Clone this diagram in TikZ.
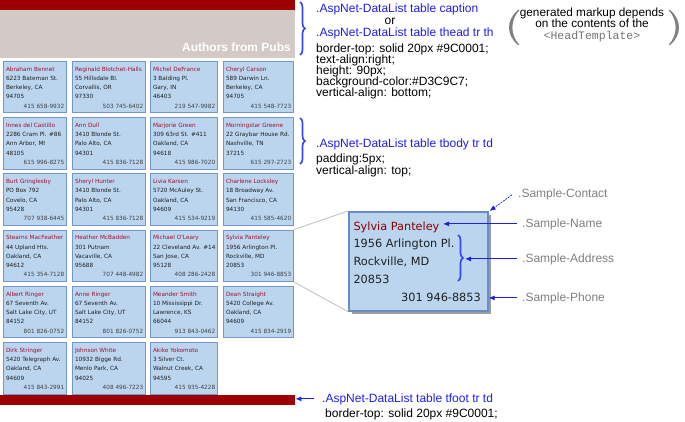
\documentclass[tikz,border=0pt]{standalone}
\usepackage{fontspec}
\setmainfont{Liberation Sans}
\newfontfamily\cellfnt{DejaVu Sans}
\newfontfamily\hmono{Liberation Mono}
\usetikzlibrary{calc,shadows,arrows.meta,decorations.pathreplacing}
\definecolor{hdred}{HTML}{9C0001}
\definecolor{hdbeige}{HTML}{D3C9C7}
\definecolor{cellfill}{HTML}{BBD5EF}
\definecolor{cellborder}{HTML}{7196D0}
\definecolor{bigborder}{HTML}{6A8CC6}
\definecolor{namered}{HTML}{A01030}
\definecolor{bigred}{HTML}{8C0000}
\definecolor{celltxt}{HTML}{202020}
\definecolor{annblue}{HTML}{1E1EEB}
\definecolor{bracec}{HTML}{3344FF}
\definecolor{lblgray}{HTML}{7F7F7F}
\definecolor{zoomgray}{HTML}{C8C8C8}
\tikzset{
  cellbox/.style={draw=cellborder, fill=cellfill, line width=0.9pt, minimum height=51.5pt, inner sep=0pt, anchor=north west},
  celltext/.style={font=\cellfnt\fontsize{5.75}{6}\selectfont, text=celltxt, inner sep=0pt, anchor=base west},
  cellname/.style={celltext, text=namered},
  cellphone/.style={celltext, text=celltxt!85, anchor=base east},
  bigbox/.style={draw=bigborder, fill=cellfill, line width=1.6pt, minimum width=139pt, minimum height=99pt, inner sep=0pt, anchor=north west,
    drop shadow={shadow xshift=3.5pt, shadow yshift=-3.5pt, fill=black!70, opacity=0.55}},
  bigtext/.style={font=\cellfnt\fontsize{11.3}{12}\selectfont, text=celltxt, inner sep=0pt, anchor=base west},
  bigname/.style={bigtext, text=bigred},
  bigphone/.style={bigtext, anchor=base east},
  bar/.style={inner sep=0pt, anchor=north west, minimum width=295pt},
  anntext/.style={font=\fontsize{12}{14}\selectfont, text=black, inner sep=0pt, anchor=base west},
  annhead/.style={anntext, text=annblue},
  lbl/.style={anntext, text=lblgray},
  notetext/.style={font=\fontsize{11.8}{13}\selectfont, text=black, inner sep=0pt, anchor=base},
  annarrow/.style={draw=annblue, line width=0.9pt, -{Latex[length=6pt,width=5pt]}},
  bracestyle/.style={draw=bracec, line width=1.6pt, decorate, decoration={brace, amplitude=5pt}},
  zoomline/.style={draw=zoomgray, line width=1pt},
  parenstyle/.style={fill=black!50, draw=none}
}
\newcommand\authorcell[9]{%
  \node[cellbox, minimum width=#4pt] (#1) at (#2,#3) {};
  \node[cellname] (#1n) at ($(#1.north west)+(2.8,10.4)$) {#5};
  \node[celltext] (#1a) at ($(#1.north west)+(2.8,19.6)$) {#6};
  \node[celltext] (#1c) at ($(#1.north west)+(2.8,28.8)$) {#7};
  \node[celltext] (#1z) at ($(#1.north west)+(2.8,38)$) {#8};
  \node[cellphone] (#1p) at ($(#1.north east)+(-2.5,47.2)$) {#9};
}
\begin{document}
\begin{tikzpicture}[x=1pt,y=-1pt]
\useasboundingbox (0,0) rectangle (685,422);
% header and footer
\node[bar, fill=hdred, minimum height=10pt] (topbar) at (0,0) {};
\node[bar, fill=hdbeige, minimum height=48pt] (headbg) at (0,10) {};
\node[font=\bfseries\fontsize{12}{14}\selectfont, text=white, anchor=base east, inner sep=0pt] (captiontxt) at (291,52) {Authors from Pubs};
\node[bar, fill=hdred, minimum height=10pt] (footbar) at (0,395) {};
% cells
\authorcell{c11}{3}{61}{63}{Abraham Bennet}{6223 Bateman St.}{Berkeley, CA}{94705}{415 658-9932}
\authorcell{c12}{72}{61}{73}{Reginald Blotchet-Halls}{55 Hillsdale Bl.}{Corvallis, OR}{97330}{503 745-6402}
\authorcell{c13}{150}{61}{67}{Michel DeFrance}{3 Balding Pl.}{Gary, IN}{46403}{219 547-9982}
\authorcell{c14}{223}{61}{70}{Cheryl Carson}{589 Darwin Ln.}{Berkeley, CA}{94705}{415 548-7723}
\authorcell{c21}{3}{117.2}{63}{Innes del Castillo}{2286 Cram Pl. \#86}{Ann Arbor, MI}{48105}{615 996-8275}
\authorcell{c22}{72}{117.2}{73}{Ann Dull}{3410 Blonde St.}{Palo Alto, CA}{94301}{415 836-7128}
\authorcell{c23}{150}{117.2}{67}{Marjorie Green}{309 63rd St. \#411}{Oakland, CA}{94618}{415 986-7020}
\authorcell{c24}{223}{117.2}{70}{Morningstar Greene}{22 Graybar House Rd.}{Nashville, TN}{37215}{615 297-2723}
\authorcell{c31}{3}{173.4}{63}{Burt Gringlesby}{PO Box 792}{Covelo, CA}{95428}{707 938-6445}
\authorcell{c32}{72}{173.4}{73}{Sheryl Hunter}{3410 Blonde St.}{Palo Alto, CA}{94301}{415 836-7128}
\authorcell{c33}{150}{173.4}{67}{Livia Karsen}{5720 McAuley St.}{Oakland, CA}{94609}{415 534-9219}
\authorcell{c34}{223}{173.4}{70}{Charlene Locksley}{18 Broadway Av.}{San Francisco, CA}{94130}{415 585-4620}
\authorcell{c41}{3}{229.6}{63}{Stearns MacFeather}{44 Upland Hts.}{Oakland, CA}{94612}{415 354-7128}
\authorcell{c42}{72}{229.6}{73}{Heather McBadden}{301 Putnam}{Vacaville, CA}{95688}{707 448-4982}
\authorcell{c43}{150}{229.6}{67}{Michael O\textquotesingle Leary}{22 Cleveland Av. \#14}{San Jose, CA}{95128}{408 286-2428}
\authorcell{c44}{223}{229.6}{70}{Sylvia Panteley}{1956 Arlington Pl.}{Rockville, MD}{20853}{301 946-8853}
\authorcell{c51}{3}{285.8}{63}{Albert Ringer}{67 Seventh Av.}{Salt Lake City, UT}{84152}{801 826-0752}
\authorcell{c52}{72}{285.8}{73}{Anne Ringer}{67 Seventh Av.}{Salt Lake City, UT}{84152}{801 826-0752}
\authorcell{c53}{150}{285.8}{67}{Meander Smith}{10 Mississippi Dr.}{Lawrence, KS}{66044}{913 843-0462}
\authorcell{c54}{223}{285.8}{70}{Dean Straight}{5420 College Av.}{Oakland, CA}{94609}{415 834-2919}
\authorcell{c61}{3}{342}{63}{Dirk Stringer}{5420 Telegraph Av.}{Oakland, CA}{94609}{415 843-2991}
\authorcell{c62}{72}{342}{73}{Johnson White}{10932 Bigge Rd.}{Menlo Park, CA}{94025}{408 496-7223}
\authorcell{c63}{150}{342}{67}{Akiko Yokomoto}{3 Silver Ct.}{Walnut Creek, CA}{94595}{415 935-4228}
% zoomed sample
\node[bigbox] (big) at (348,211) {};
\draw[zoomline] (c44.north east) -- (big.north west);
\draw[zoomline] (c44.south east) -- (big.south west);
\node[bigname] (bign) at (353.3,230) {Sylvia Panteley};
\node[bigtext] (biga) at (353.3,247.8) {1956 Arlington Pl.};
\node[bigtext] (bigc) at (353.3,265.6) {Rockville, MD};
\node[bigtext] (bigz) at (353.3,283.4) {20853};
\node[bigphone] (bigp) at (481,301.3) {301 946-8853};
\coordinate (ibr1) at (458,235);
\coordinate (ibr2) at (458,281);
\draw[bracestyle] (ibr1) -- (ibr2);
% sample labels
\node[lbl] (lblcontact) at (518,198) {.Sample-Contact};
\node[lbl] (lblname) at (522,227) {.Sample-Name};
\node[lbl] (lbladdr) at (522,262) {.Sample-Address};
\node[lbl] (lblphone) at (522,301) {.Sample-Phone};
\coordinate (tipname) at (443,223);
\coordinate (tipaddr) at (465,259);
\draw[annarrow, dash pattern=on 2pt off 1pt, line width=0.7pt] ([xshift=-6pt]lblcontact.west) -- ([xshift=1pt]big.north east);
\draw[annarrow] ([xshift=-5pt]lblname.west) -- (tipname |- lblname.west);
\draw[annarrow] ([xshift=-5pt]lbladdr.west) -- (tipaddr |- lbladdr.west);
\draw[annarrow] ([xshift=-5pt]lblphone.west) -- (big.east |- lblphone.west);
% header annotation
\coordinate (hbr1) at (300,2);
\coordinate (hbr2) at (300,55);
\draw[bracestyle] (hbr1) -- (hbr2);
\node[annhead] (capA) at (316,13) {.AspNet-DataList table caption};
\node[anntext, anchor=base] (orA) at (390,24.5) {or};
\node[annhead] (theadA) at (316,37) {.AspNet-DataList table thead tr th};
\node[anntext] (hs1) at (316,52.5) {border-top: solid 20px \#9C0001;};
\node[anntext] (hs2) at (316,63.5) {text-align:right;};
\node[anntext] (hs3) at (316,74.5) {height: 90px;};
\node[anntext] (hs4) at (316,85.5) {background-color:\#D3C9C7;};
\node[anntext] (hs5) at (316,96.5) {vertical-align: bottom;};
% note in parentheses
\node[notetext] (note1) at (592,16.5) {generated markup depends};
\node[notetext] (note2) at (592,28) {on the contents of the};
\node[notetext, font=\hmono\fontsize{11.5}{13}\selectfont, text=black!55] (note3) at (592,40) {<HeadTemplate>};
\fill[parenstyle] (518,10) .. controls (506,20) and (506,35) .. (518,45) -- (519.5,45) .. controls (510,35) and (510,20) .. (519.5,10) -- cycle;
\fill[parenstyle] (670,10) .. controls (682,20) and (682,35) .. (670,45) -- (668.5,45) .. controls (678,35) and (678,20) .. (668.5,10) -- cycle;
% tbody annotation
\coordinate (bbr1) at (300,118);
\coordinate (bbr2) at (300,164);
\draw[bracestyle] (bbr1) -- (bbr2);
\node[annhead] (tbodyA) at (316,147.5) {.AspNet-DataList table tbody tr td};
\node[anntext] (bs1) at (316,163) {padding:5px;};
\node[anntext] (bs2) at (316,174.5) {vertical-align: top;};
% footer annotation
\node[annhead] (tfootA) at (322,402) {.AspNet-DataList table tfoot tr td};
\node[anntext] (fs1) at (325,417) {border-top: solid 20px \#9C0001;};
\draw[annarrow] ([xshift=-8pt]tfootA.west) -- (footbar.east |- tfootA.west);
\end{tikzpicture}
\end{document}
